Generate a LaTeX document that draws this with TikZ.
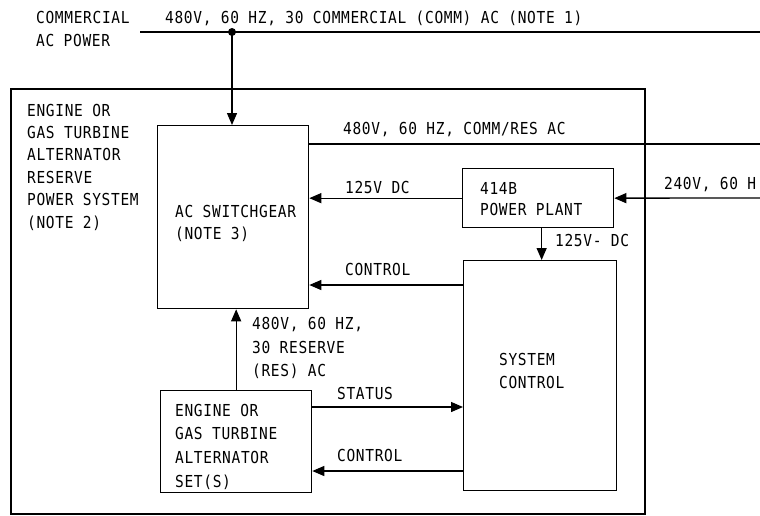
\documentclass[tikz,border=0pt]{standalone}
\usepackage{fontspec}
\newfontfamily\lett[FakeStretch=0.88,LetterSpace=4]{DejaVu Sans Mono}
\usetikzlibrary{arrows.meta}
\tikzset{
  lbl/.style={anchor=west, inner sep=0pt, text height=12pt, text depth=0pt,
              font=\lett\fontsize{16.5}{18}\selectfont},
  blk/.style={draw, line width=1.3pt, inner sep=0pt, anchor=north west},
  wire/.style={line width=1.3pt},
  arr/.style={wire, -{Triangle[length=12pt,width=10pt]}},
  frame/.style={draw, line width=2.4pt}
}
\begin{document}
\begin{tikzpicture}[x=1pt,y=-1pt]
\path[use as bounding box, fill=white] (0,0) rectangle (760,515);
\clip (0,0) rectangle (760,515);

% outer frame
\node[frame, inner sep=0pt, anchor=north west, minimum width=634pt, minimum height=425pt] (outer) at (10,88) {};

% blocks
\node[blk, minimum width=151pt, minimum height=183pt] (acsw) at (157,125) {};
\node[blk, minimum width=151pt, minimum height=59pt] (pp) at (462,168) {};
\node[blk, minimum width=153pt, minimum height=230pt] (sc) at (463,260) {};
\node[blk, minimum width=151pt, minimum height=102pt] (eng) at (160,390) {};

% coordinates
\coordinate (comL) at (140,32);
\coordinate (comR) at (760,32);
\coordinate (tap) at (232,32);
\coordinate (resR) at (760,144);
\coordinate (in240) at (760,198);
\coordinate (yctlA) at (0,285);
\coordinate (ystat) at (0,407);
\coordinate (yctlB) at (0,471);

% commercial bus
\draw[wire] (comL) -- (comR);
\fill (tap) circle (4pt);
\draw[arr] (tap) -- (tap |- acsw.north);

% COMM/RES output
\draw[wire] (acsw.east |- resR) -- (resR);

% 240V input
\draw[arr] (in240) -- (pp.east);

% 125V DC to switchgear
\draw[arr] (pp.west) -- (acsw.east |- pp.west);

% 125V DC to system control
\draw[arr] ([xshift=3.5pt]pp.south) -- ([xshift=3.5pt]pp.south |- sc.north);

% control to switchgear
\draw[arr] (sc.west |- yctlA) -- (acsw.east |- yctlA);

% reserve AC
\draw[arr] (eng.north) -- (eng.north |- acsw.south);

% status
\draw[arr] (eng.east |- ystat) -- (sc.west |- ystat);

% control to engine
\draw[arr] (sc.west |- yctlB) -- (eng.east |- yctlB);

% texts
\node[lbl] (t1) at (36,17) {COMMERCIAL};
\node[lbl] (t2) at (36,40) {AC POWER};
\node[lbl] (t3) at (165,17) {480V, 60 HZ, 30 COMMERCIAL (COMM) AC (NOTE 1)};

\node[lbl] (l1) at (27,110) {ENGINE OR};
\node[lbl] (l2) at (27,132.4) {GAS TURBINE};
\node[lbl] (l3) at (27,154.8) {ALTERNATOR};
\node[lbl] (l4) at (27,177.2) {RESERVE};
\node[lbl] (l5) at (27,199.6) {POWER SYSTEM};
\node[lbl] (l6) at (27,222) {(NOTE 2)};

\node[lbl] (a1) at (175,211) {AC SWITCHGEAR};
\node[lbl] (a2) at (175,233) {(NOTE 3)};

\node[lbl] (r1) at (343,128) {480V, 60 HZ, COMM/RES AC};
\node[lbl] (d1) at (345,187) {125V DC};
\node[lbl] (p1) at (480,188) {414B};
\node[lbl] (p2) at (480,209) {POWER PLANT};
\node[lbl] (v1) at (664,183) {240V, 60 H};
\node[lbl] (d2) at (555,240) {125V- DC};
\node[lbl] (c1) at (345,269) {CONTROL};

\node[lbl] (s1) at (499,359) {SYSTEM};
\node[lbl] (s2) at (499,382) {CONTROL};

\node[lbl] (e1) at (252,323) {480V, 60 HZ,};
\node[lbl] (e2) at (252,347) {30 RESERVE};
\node[lbl] (e3) at (252,370) {(RES) AC};

\node[lbl] (st) at (337,393) {STATUS};
\node[lbl] (c2) at (337,455) {CONTROL};

\node[lbl] (g1) at (175,410) {ENGINE OR};
\node[lbl] (g2) at (175,433.5) {GAS TURBINE};
\node[lbl] (g3) at (175,457) {ALTERNATOR};
\node[lbl] (g4) at (175,481) {SET(S)};
\end{tikzpicture}
\end{document}
